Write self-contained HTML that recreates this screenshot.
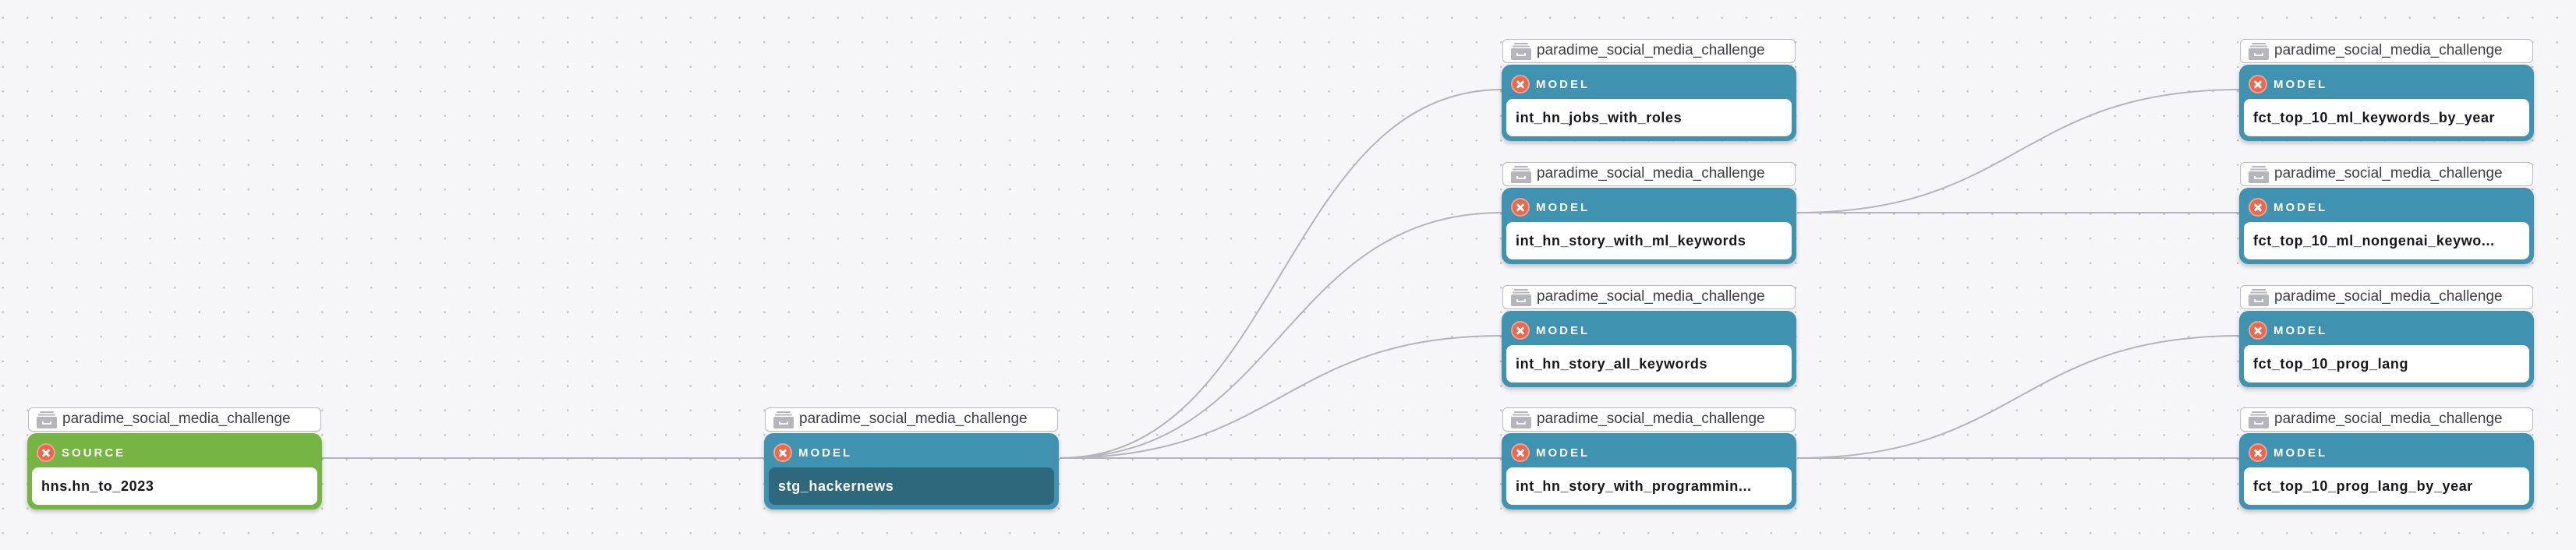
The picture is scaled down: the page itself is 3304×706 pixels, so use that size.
<!DOCTYPE html>
<html><head><meta charset="utf-8"><style>
*{box-sizing:border-box;margin:0;padding:0}
body{width:3304px;height:706px;overflow:hidden;background:#f6f6f8;font-family:"Liberation Sans",sans-serif;position:relative}
.bg{position:absolute;inset:0;background-image:radial-gradient(circle,#c2c2c8 1.2px,transparent 1.4px);background-size:31.5px 31.5px;background-position:-12px 7px}
svg.edges{position:absolute;left:0;top:0}
.lbl{position:absolute;width:376px;height:31px;border:1.5px solid #b9b9bf;border-radius:6px;background:#fff;font-size:19px;color:#3d3d48;line-height:28px;padding-left:43px;white-space:nowrap}
.lbl .ic{position:absolute;left:10px;top:4px;width:26px;height:22px}
.card{position:absolute;width:378px;height:98px;border-radius:12px;background:#4093b0;box-shadow:0 3px 6px rgba(0,0,0,.22)}
.card.src{background:#76b443}
.card .hd{position:absolute;left:44px;top:17px;font-size:15px;font-weight:bold;color:#fff;letter-spacing:3px}
.card .x{position:absolute;left:12px;top:13px;width:24px;height:24px;border-radius:50%;background:#e8694f;border:2px solid #f5a08c}
.card .x:before,.card .x:after{content:"";position:absolute;left:4px;top:8.5px;width:12px;height:3px;background:#fff;transform:rotate(45deg);border-radius:1px}
.card .x:after{transform:rotate(-45deg)}
.in{position:absolute;left:6px;top:44px;width:366px;height:48px;border-radius:8px;background:#fff;font-size:18px;font-weight:bold;color:#16161c;line-height:48px;padding-left:12px;letter-spacing:0.6px;white-space:nowrap;overflow:hidden}
.in.dk{background:#2e687c;color:#fff}
</style></head><body>
<div class="bg"></div>
<svg class="edges" width="3304" height="706" fill="none" stroke="#b4b4ba" stroke-width="2">
<path d="M413 588 L981 588"/>
<path d="M1359 588 C1643 588 1643 115 1927 115"/>
<path d="M1359 588 C1643 588 1643 273 1927 273"/>
<path d="M1359 588 C1643 588 1643 431 1927 431"/>
<path d="M1359 588 L1927 588"/>
<path d="M2305 273 C2589 273 2589 115 2873 115"/>
<path d="M2305 273 L2873 273"/>
<path d="M2305 588 C2589 588 2589 431 2873 431"/>
<path d="M2305 588 L2873 588"/>
</svg>

<!-- nodes -->
<div id="n"></div>
<script>
const nodes=[
[36,556,"SOURCE","hns.hn_to_2023","src",""],
[981,556,"MODEL","stg_hackernews","","dk"],
[1927,83,"MODEL","int_hn_jobs_with_roles","",""],
[1927,241,"MODEL","int_hn_story_with_ml_keywords","",""],
[1927,399,"MODEL","int_hn_story_all_keywords","",""],
[1927,556,"MODEL","int_hn_story_with_programmin...","",""],
[2873,83,"MODEL","fct_top_10_ml_keywords_by_year","",""],
[2873,241,"MODEL","fct_top_10_ml_nongenai_keywo...","",""],
[2873,399,"MODEL","fct_top_10_prog_lang","",""],
[2873,556,"MODEL","fct_top_10_prog_lang_by_year","",""]];
let h="";
const icon='<svg class="ic" viewBox="0 0 26 22"><rect x="4" y="0" width="18" height="2" rx="1" fill="#b5b5bb"/><rect x="2" y="3.5" width="22" height="2" rx="1" fill="#b5b5bb"/><rect x="0" y="7" width="26" height="15" rx="2" fill="#b5b5bb"/><path d="M8 13v3h10v-3" stroke="#fff" stroke-width="1.8" fill="none"/></svg>';
for(const [x,y,t,n,c,d] of nodes){
h+=`<div class="lbl" style="left:${x}px;top:${y-33}px">${icon}paradime_social_media_challenge</div>`;
h+=`<div class="card ${c}" style="left:${x-1}px;top:${y}px"><div class="x"></div><div class="hd">${t}</div><div class="in ${d}">${n}</div></div>`;
}
document.getElementById("n").innerHTML=h;
</script>
</body></html>
